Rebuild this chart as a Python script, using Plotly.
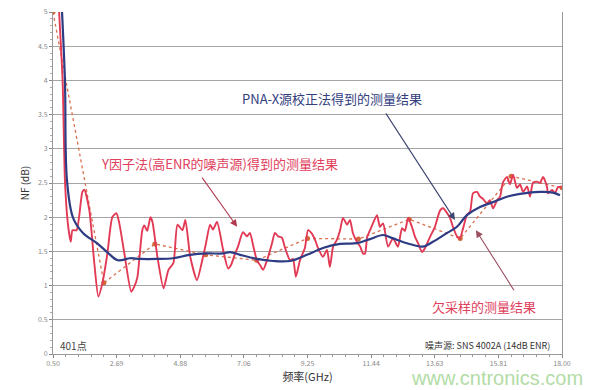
import plotly.graph_objects as go

# ---------------- data ----------------
x_tick_vals = [0.5, 2.6875, 4.875, 7.0625, 9.25, 11.4375, 13.625, 15.8125, 18.0]
x_tick_text = ["0.50", "2.69", "4.88", "7.06", "9.25", "11.44", "13.63", "15.81", "18.00"]
y_tick_vals = [0, 0.5, 1, 1.5, 2, 2.5, 3, 3.5, 4, 4.5, 5]
y_tick_text = ["0", "0.5", "1", "1.5", "2", "2.5", "3", "3.5", "4", "4.5", "5"]

# Y-factor (high ENR source) measurement - red
yf_x = [0.71, 0.83, 0.91, 1.01, 1.11, 1.17, 1.31, 1.51, 1.58, 1.75, 1.92, 2.06, 2.20, 2.37,
        2.54, 2.68, 2.78, 2.95, 3.19, 3.29, 3.40, 3.57, 3.64, 3.74, 3.85, 3.92, 4.09, 4.30,
        4.47, 4.64, 4.78, 4.95, 5.05, 5.22, 5.45, 5.62, 5.76, 5.90, 6.00, 6.14, 6.35, 6.52,
        6.62, 6.76, 6.86, 7.03, 7.17, 7.27, 7.38, 7.51, 7.62, 7.72, 7.86, 8.03, 8.13, 8.24,
        8.37, 8.48, 8.65, 8.75, 8.85, 8.99, 9.16, 9.27, 9.40, 9.51, 9.61, 9.78, 9.92, 10.02,
        10.13, 10.26, 10.37, 10.47, 10.61, 10.71, 10.81, 10.95, 11.06, 11.16, 11.23, 11.30,
        11.40, 11.50, 11.64, 11.74, 11.85, 12.02, 12.19, 12.36, 12.50, 12.60, 12.71, 12.84,
        12.95, 13.05, 13.19, 13.29, 13.46, 13.63, 13.81, 13.91, 14.05, 14.15, 14.25, 14.39,
        14.49, 14.60, 14.73, 14.84, 14.94, 15.08, 15.18, 15.28, 15.42, 15.52, 15.63, 15.77,
        15.87, 15.97, 16.11, 16.21, 16.32, 16.45, 16.56, 16.66, 16.80, 16.90, 17.00, 17.14,
        17.24, 17.35, 17.48, 17.52, 17.66, 17.76, 17.86, 18.00]
yf_y = [5.00, 4.00, 2.54, 1.91, 1.64, 1.81, 1.81, 2.37, 2.40, 2.10, 1.33, 0.84, 1.04, 1.47,
        2.00, 2.06, 1.91, 1.48, 0.91, 0.98, 1.12, 1.81, 1.88, 1.80, 2.00, 1.93, 1.42, 0.96,
        1.23, 1.33, 1.89, 1.81, 1.96, 1.42, 1.08, 1.35, 1.62, 1.89, 1.82, 1.93, 1.52, 1.25,
        1.30, 1.47, 1.57, 1.78, 1.72, 1.77, 1.59, 1.37, 1.30, 1.23, 1.37, 1.62, 1.77, 1.72,
        1.70, 1.55, 1.37, 1.39, 1.13, 1.37, 1.55, 1.81, 1.76, 1.67, 1.55, 1.42, 1.52, 1.27,
        1.57, 1.67, 1.81, 1.99, 1.89, 1.96, 1.77, 1.64, 1.57, 1.47, 1.47, 1.71,
        1.81, 1.91, 2.03, 1.86, 1.91, 1.57, 1.69, 1.57, 1.84, 1.80, 1.99, 1.86,
        1.71, 1.62, 1.49, 1.55, 1.71, 1.86, 2.10, 2.13, 2.06, 1.99, 1.86, 1.72,
        1.69, 1.84, 2.03, 2.08, 2.35, 2.37, 2.30, 2.27, 2.20, 2.25, 2.13, 2.25,
        2.30, 2.51, 2.59, 2.48, 2.62, 2.43, 2.48, 2.37, 2.45, 2.30, 2.50, 2.52,
        2.50, 2.59, 2.45, 2.35, 2.40, 2.35, 2.44, 2.44]

# PNA-X source-corrected measurement - blue
pna_x = [0.81, 0.91, 0.98, 1.19, 1.53, 2.01, 2.36, 2.73, 3.15, 3.49, 4.08, 4.63, 5.21, 5.79,
         6.34, 6.59, 6.93, 7.51, 8.06, 8.65, 9.23, 9.78, 10.37, 10.95, 11.40, 11.85, 12.19,
         12.67, 13.22, 13.56, 14.05, 14.39, 14.73, 15.18, 15.63, 16.11, 16.56, 17.24, 17.69, 17.93]
pna_y = [5.00, 4.00, 2.54, 1.99, 1.77, 1.62, 1.49, 1.37, 1.40, 1.39, 1.39, 1.40, 1.45, 1.47,
         1.47, 1.49, 1.45, 1.39, 1.36, 1.36, 1.45, 1.55, 1.61, 1.62, 1.68, 1.74, 1.69,
         1.62, 1.57, 1.64, 1.77, 1.86, 2.03, 2.15, 2.22, 2.30, 2.34, 2.37, 2.36, 2.32]

# Undersampled measurement - dotted
us_x = [0.5, 2.25, 4.0, 5.75, 7.5, 9.25, 11.0, 12.75, 14.5, 16.25, 18.0]
us_y = [5.0, 1.04, 1.61, 1.45, 1.37, 1.69, 1.68, 1.97, 1.69, 2.60, 2.43]

RED = "#e23a55"
BLUE = "#2e3c84"
ORANGE = "#d8704f"
CJK = "Noto Sans CJK SC"

fig = go.Figure()
fig.add_trace(go.Scatter(x=us_x, y=us_y, mode="lines+markers",
                         line=dict(color=ORANGE, width=1.3, dash="dot"),
                         marker=dict(color="#d0683a", size=5), hoverinfo="skip"))
fig.add_trace(go.Scatter(x=yf_x, y=yf_y, mode="lines",
                         line=dict(color=RED, width=1.9, shape="spline", smoothing=0.6),
                         hoverinfo="skip"))
fig.add_trace(go.Scatter(x=pna_x, y=pna_y, mode="lines",
                         line=dict(color=BLUE, width=2.2, shape="spline", smoothing=1.0),
                         hoverinfo="skip"))

annotations = [
    # texts
    dict(x=10.09, y=3.74, text="PNA-X源校正法得到的测量结果", showarrow=False,
         font=dict(family=CJK, size=13, color="#33407e")),
    dict(x=6.24, y=2.78, text="Y因子法(高ENR的噪声源)得到的测量结果", showarrow=False,
         font=dict(family=CJK, size=13, color="#e0405c")),
    dict(x=15.32, y=0.69, text="欠采样的测量结果", showarrow=False,
         font=dict(family=CJK, size=13, color="#e0405c")),
    dict(x=0.67, y=0.12, text="401点", showarrow=False, xanchor="left",
         font=dict(family=CJK, size=10, color="#444444")),
    dict(x=17.66, y=0.13, text="噪声源: SNS 4002A (14dB ENR)", showarrow=False, xanchor="right",
         font=dict(family=CJK, size=9, color="#333333")),
    # arrows
    dict(x=14.32, y=1.96, ax=11.91, ay=3.54, axref="x", ayref="y", text="", showarrow=True,
         arrowhead=2, arrowsize=1.3, arrowwidth=1.1, arrowcolor="#3d4470"),
    dict(x=6.83, y=1.86, ax=5.59, ay=2.60, axref="x", ayref="y", text="", showarrow=True,
         arrowhead=2, arrowsize=1.3, arrowwidth=1.1, arrowcolor="#b03a50"),
    dict(x=15.04, y=1.81, ax=16.38, ay=0.91, axref="x", ayref="y", text="", showarrow=True,
         arrowhead=2, arrowsize=1.3, arrowwidth=1.1, arrowcolor="#9a5060"),
    # watermark
    dict(x=(497 - 53) / 509, y=(354 - 378) / 342, xref="paper", yref="paper",
         xanchor="center", yanchor="middle", text="www.cntronics.com",
         showarrow=False, font=dict(family="Liberation Sans", size=20, color="#b3dca6")),
]

fig.update_layout(
    width=600, height=390,
    margin=dict(l=53, r=38, t=12, b=36, autoexpand=False),
    paper_bgcolor="white", plot_bgcolor="white",
    showlegend=False,
    font=dict(family=CJK),
    annotations=annotations,
)
fig.update_xaxes(
    range=[0.5, 18.0], tickmode="array", tickvals=x_tick_vals, ticktext=x_tick_text,
    tickfont=dict(size=7, color="#888888"), ticks="outside", ticklen=3, tickcolor="#888888",
    showgrid=False, showline=True, linecolor="#999999", linewidth=1, mirror=False, zeroline=False,
    automargin=False,
    minor=dict(tick0=0.5, dtick=0.4375, ticks="outside", ticklen=2, tickcolor="#999999", showgrid=False),
    title=dict(text="频率(GHz)", font=dict(family=CJK, size=11, color="#333333"), standoff=4),
)
fig.update_yaxes(
    range=[0, 5], tickmode="array", tickvals=y_tick_vals, ticktext=y_tick_text,
    tickfont=dict(size=7, color="#888888"), ticks="outside", ticklen=3, tickcolor="#888888",
    showgrid=True, gridcolor="#a5a5a5", gridwidth=1,
    showline=True, linecolor="#999999", linewidth=1, mirror=True, zeroline=False,
    automargin=False,
    minor=dict(dtick=0.1, ticks="outside", ticklen=2, tickcolor="#aaaaaa", showgrid=False),
    title=dict(text="NF (dB)", font=dict(family=CJK, size=10, color="#333333"), standoff=6),
)

fig.write_html("out.html", config={"displayModeBar": False},
               post_script="document.body.style.margin='0';")
